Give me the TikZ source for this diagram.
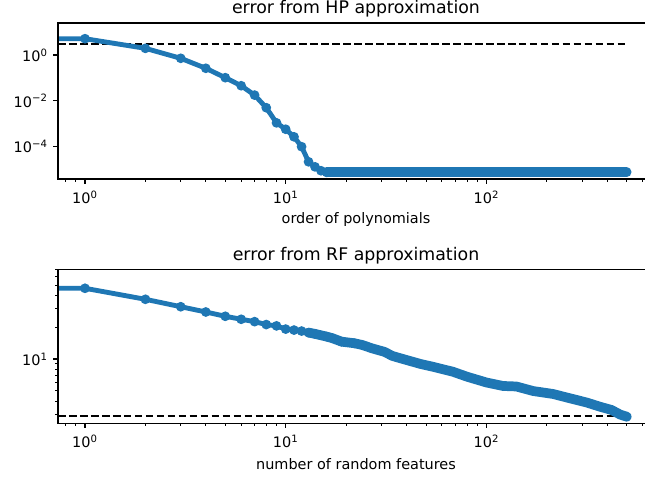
\documentclass[tikz,border=0pt]{standalone}
\usepackage{fontspec}
\setmainfont{DejaVu Sans}
\definecolor{mplblue}{HTML}{1F77B4}

\begin{document}
\begin{tikzpicture}[x=0.72pt, y=-0.72pt,
            every node/.style={inner sep=0pt, font=\fontsize{10.4}{12}\selectfont},
            axisline/.style={line width=0.8pt},
            majortick/.style={line width=0.8pt},
            minortick/.style={line width=0.6pt},
            errline/.style={mplblue, line width=3.5pt, line join=round},
            errband/.style={mplblue, line width=7pt, line cap=round, line join=round},
            errdot/.style={fill=mplblue},
            bound/.style={black, line width=1.5pt, dash pattern=on 5.5pt off 2.4pt},
            plottitle/.style={font=\fontsize{12.5}{14}\selectfont},
            declare function={lx(\n)=85+200.7*log10(\n); ty(\e)=55-22.92*\e; by(\v)=464.5-105.5*log10(\v);},
            ]
            \useasboundingbox (0,0) rectangle (645,482);

            % top panel: HP approximation
            \draw[bound] (58,{ty(0.467)}) -- ({lx(500)},{ty(0.467)});
            \draw[errline] (58,{ty(0.711)})
                \foreach \n/\e in {1/0.711,2/0.29,3/-0.145,4/-0.58,5/-0.99,6/-1.34,7/-1.75,8/-2.30,
                                   9/-2.96,10/-3.24,11/-3.57,12/-4.0,13/-4.66,14/-4.88,15/-5.05,16/-5.12}
                    { -- ({lx(\n)},{ty(\e)}) };
            \draw[errband] ({lx(16)},{ty(-5.12)}) -- ({lx(500)},{ty(-5.12)});
            \foreach \n/\e in {1/0.711,2/0.29,3/-0.145,4/-0.58,5/-0.99,6/-1.34,7/-1.75,8/-2.30,
                               9/-2.96,10/-3.24,11/-3.57,12/-4.0,13/-4.66,14/-4.88,15/-5.05,16/-5.12}
                \fill[errdot] ({lx(\n)},{ty(\e)}) circle (4.9);
            \draw[axisline] (645,23) -- (58,23) -- (58,179) -- (645,179);
            \foreach \e/\t in {0/0,-2/−2,-4/−4} {
                \draw[majortick] (58,{ty(\e)}) -- ++(-4.9,0);
                \node[anchor=east] (hpy\e) at (48,{ty(\e)}) {10\textsuperscript{\t}};
            }

            % bottom panel: RF approximation
            \draw[bound] (58,{by(2.9)}) -- ({lx(500)},{by(2.9)});
            \draw[errline] (58,{by(46.8)})
                \foreach \n/\v in {1/46.8,2/36.8,3/31.3,4/27.9,5/25.4,6/23.8,7/22.6,8/21.2,9/20.6,10/19.2,
                                   11/18.8,12/18.4,13/17.8}
                    { -- ({lx(\n)},{by(\v)}) };
            \draw[errband] ({lx(13)},{by(17.8)})
                \foreach \n/\v in {14/17.3,16/16.3,17/15.8,19/14.6,22/14.1,24/13.6,27/12.6,31/11.7,34/10.7,
                                   37/10.2,47/8.97,54/8.45,68/7.58,80/6.8,100/5.99,121/5.55,141/5.49,
                                   171/4.97,215/4.66,251/4.32,316/3.87,368/3.53,420/3.29,463/2.98,500/2.84}
                    { -- ({lx(\n)},{by(\v)}) };
            \foreach \n/\v in {1/46.8,2/36.8,3/31.3,4/27.9,5/25.4,6/23.8,7/22.6,8/21.2,9/20.6,10/19.2,
                               11/18.8,12/18.4,13/17.8,14/17.3,16/16.3,17/15.8,19/14.6,22/14.1,500/2.84}
                \fill[errdot] ({lx(\n)},{by(\v)}) circle (4.9);
            \draw[axisline] (645,269.3) -- (58,269.3) -- (58,423.3) -- (645,423.3);
            \foreach \v in {3,4,...,9,20,30,...,70}
                \draw[minortick] (58,{by(\v)}) -- ++(-2.8,0);
            \draw[majortick] (58,{by(10)}) -- ++(-4.9,0);
            \node[anchor=east] (rfy1) at (48,{by(10)}) {10\textsuperscript{1}};

            % shared x ticks
            \foreach \y/\p in {179/hp,423.3/rf} {
                \foreach \n in {0.8,0.9,2,3,...,9,20,30,...,90,200,300,400,500,600}
                    \draw[minortick] ({lx(\n)},\y) -- ++(0,2.8);
                \foreach \k/\n in {0/1,1/10,2/100} {
                    \draw[majortick] ({lx(\n)},\y) -- ++(0,4.9);
                    \node[anchor=base] (\p x\k) at ({lx(\n)},\y+24.3) {10\textsuperscript{\k}};
                }
            }

            \node[plottitle, anchor=base] (hptitle) at (356,14) {error from HP approximation};
            \node[anchor=base] (hpxlabel) at (356,224) {order of polynomials};
            \node[plottitle, anchor=base] (rftitle) at (356,260.5) {error from RF approximation};
            \node[anchor=base] (rfxlabel) at (356,469.5) {number of random features};
        \end{tikzpicture}
\end{document}
